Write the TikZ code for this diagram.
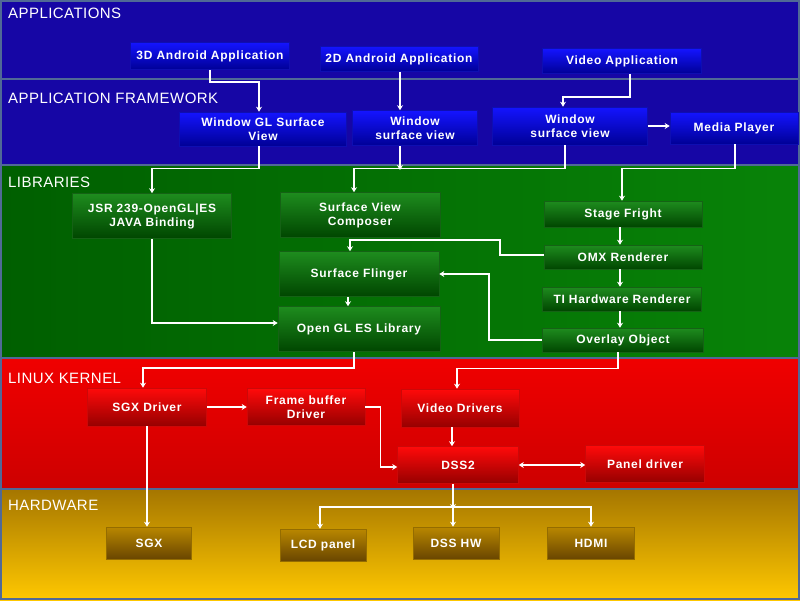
\documentclass[tikz,border=0pt]{standalone}
\usepackage{fontspec}
\setmainfont{Liberation Sans}
\usetikzlibrary{arrows.meta,calc}
\definecolor{bandblue}{RGB}{22,6,165}
\definecolor{bandline}{RGB}{80,105,150}
\definecolor{greenA}{RGB}{0,95,0}
\definecolor{greenB}{RGB}{10,140,10}
\definecolor{redA}{RGB}{240,0,0}
\definecolor{redB}{RGB}{205,0,0}
\definecolor{goldA}{RGB}{165,118,0}
\definecolor{goldB}{RGB}{255,200,0}
\definecolor{nbTop}{RGB}{20,20,255}
\definecolor{nbBot}{RGB}{0,0,150}
\definecolor{ngTop}{RGB}{30,140,30}
\definecolor{ngBot}{RGB}{0,70,0}
\definecolor{nrTop}{RGB}{255,10,10}
\definecolor{nrBot}{RGB}{150,0,0}
\definecolor{noTop}{RGB}{185,135,0}
\definecolor{noBot}{RGB}{105,70,0}
\newcommand{\boxfont}{\fontsize{12}{14}\selectfont\bfseries\addfontfeature{LetterSpace=6}}
\newcommand{\bandfont}{\fontsize{15}{17}\selectfont\addfontfeature{LetterSpace=3}}
\tikzset{
  x=1pt,y=-1pt,
  box/.style={text=white, font=\boxfont, align=center, inner sep=0pt, line width=0.6pt},
  bluebox/.style={box, top color=nbTop, bottom color=nbBot, draw=nbTop!70!black},
  greenbox/.style={box, top color=ngTop, bottom color=ngBot, draw=ngTop!70!black},
  redbox/.style={box, top color=nrTop, bottom color=nrBot, draw=nrTop!80!black},
  goldbox/.style={box, top color=noTop, bottom color=noBot, draw=noTop!80!black},
  bandlabel/.style={text=white, font=\bandfont, anchor=west, inner sep=0pt},
  conn/.style={draw=white, line width=1.6pt, -{Stealth[length=5pt,width=6pt]}},
  dconn/.style={draw=white, line width=1.6pt, {Stealth[length=5pt,width=6pt]}-{Stealth[length=5pt,width=6pt]}}
}
\begin{document}
\begin{tikzpicture}
\useasboundingbox (0,0) rectangle (800,600);
% bands
\fill[bandblue] (0,0) rectangle (800,79);
\fill[bandblue] (0,79) rectangle (800,165);
\shade[left color=greenA, right color=greenB!80!greenA] (0,165) rectangle (800,358);
\shade[top color=redA, bottom color=redB] (0,358) rectangle (800,489);
\shade[top color=goldA, bottom color=goldB] (0,489) rectangle (800,600);
\draw[bandline, line width=2pt] (0,79) -- (800,79);
\draw[bandline, line width=2pt] (0,165) -- (800,165);
\draw[bandline, line width=2pt] (0,358) -- (800,358);
\draw[bandline, line width=2pt] (0,489) -- (800,489);
\draw[bandline, line width=2pt] (1,1) rectangle (799,599);
% band labels
\node[bandlabel] (lapp) at (8,13) {APPLICATIONS};
\node[bandlabel] (lfw) at (8,98) {APPLICATION FRAMEWORK};
\node[bandlabel] (llib) at (8,182) {LIBRARIES};
\node[bandlabel] (lker) at (8,378) {LINUX KERNEL};
\node[bandlabel] (lhw) at (8,505) {HARDWARE};
% application nodes
\node[bluebox, minimum width=159, minimum height=27] (a3d) at (210,56) {3D Android Application};
\node[bluebox, minimum width=158, minimum height=25] (a2d) at (399,59) {2D Android Application};
\node[bluebox, minimum width=159, minimum height=25] (avid) at (622,61) {Video Application};
% framework
\node[bluebox, minimum width=167, minimum height=34] (wgl) at (263,129) {Window GL Surface\\View};
\node[bluebox, minimum width=125, minimum height=35] (wsv1) at (415,128) {Window\\surface view};
\node[bluebox, minimum width=155, minimum height=38] (wsv2) at (570,126) {Window\\surface view};
\node[bluebox, minimum width=128, minimum height=32] (mp) at (734,128) {Media Player};
% libraries
\node[greenbox, minimum width=159, minimum height=45] (jsr) at (152,216) {JSR 239-OpenGL|ES\\JAVA Binding};
\node[greenbox, minimum width=160, minimum height=45] (svc) at (360,215) {Surface View\\Composer};
\node[greenbox, minimum width=160, minimum height=45] (sf) at (359,274) {Surface Flinger};
\node[greenbox, minimum width=162, minimum height=45] (ogl) at (359,329) {Open GL ES Library};
\node[greenbox, minimum width=158, minimum height=26] (stf) at (623,214) {Stage Fright};
\node[greenbox, minimum width=158, minimum height=24] (omx) at (623,257) {OMX Renderer};
\node[greenbox, minimum width=159, minimum height=24] (tih) at (622,299) {TI Hardware Renderer};
\node[greenbox, minimum width=161, minimum height=24] (ovl) at (623,340) {Overlay Object};
% kernel
\node[redbox, minimum width=119, minimum height=38] (sgxd) at (147,407) {SGX Driver};
\node[redbox, minimum width=118, minimum height=37] (fbd) at (306,407) {Frame buffer\\Driver};
\node[redbox, minimum width=118, minimum height=38] (vd) at (460,408) {Video Drivers};
\node[redbox, minimum width=121, minimum height=37] (dss) at (458,465) {DSS2};
\node[redbox, minimum width=119, minimum height=37] (pd) at (645,464) {Panel driver};
% hardware
\node[goldbox, minimum width=85, minimum height=32] (sgx) at (149,543) {SGX};
\node[goldbox, minimum width=86, minimum height=32] (lcd) at (323,545) {LCD panel};
\node[goldbox, minimum width=86, minimum height=32] (dsshw) at (456,543) {DSS HW};
\node[goldbox, minimum width=87, minimum height=32] (hdmi) at (591,543) {HDMI};
% junction coordinates
\coordinate (jlib) at (400,168);
\coordinate (jhw) at (453,507);
% connectors
\draw[conn] (a3d.south) -- ++(0,12) -| ([xshift=-4pt]wgl.north);
\draw[conn] (a2d.south -| 400,0) -- (wsv1.north -| 400,0);
\draw[conn] (avid.south -| 630,0) -- ++(0,23) -| ([xshift=-7pt]wsv2.north);
\draw[conn] (wsv2.east) -- (wsv2.east -| mp.west);
\draw[conn] (wgl.south -| 259,0) -- ++(0,22) -| (jsr.north);
\draw[conn] (wsv1.south -| 400,0) -- ([yshift=-2pt]jlib);
\draw[conn] (wsv2.south -| 565,0) -- ++(0,23) -| ([xshift=-6pt]svc.north);
\draw[conn] (mp.south -| 735,0) -- ++(0,24) -| ([xshift=-1pt]stf.north);
\draw[conn] (stf.south -| 620,0) -- (omx.north -| 620,0);
\draw[conn] (omx.south -| 620,0) -- (tih.north -| 620,0);
\draw[conn] (tih.south -| 620,0) -- (ovl.north -| 620,0);
\draw[conn] ([yshift=2pt]omx.west) -- ++(-44,0) -- ++(0,-15) -| ([xshift=-9pt]sf.north);
\draw[conn] (ovl.west) -- ++(-53,0) |- (sf.east);
\draw[conn] ([xshift=-11pt]sf.south) -- ([xshift=-11pt]ogl.north);
\draw[conn] (jsr.south) |- ([yshift=6pt]ogl.west);
\draw[conn] ([xshift=-5pt]ogl.south) -- ++(0,16) -| ([xshift=-4pt]sgxd.north);
\draw[conn] ([xshift=-5pt]ovl.south) -- ++(0,16) -| ([xshift=-3pt]vd.north);
\draw[conn] (sgxd.east) -- (fbd.west);
\draw[conn] (fbd.east) -- ++(15,0) |- ([yshift=-2pt]dss.west);
\draw[conn] ([xshift=-8pt]vd.south) -- ([xshift=-6pt]dss.north);
\draw[dconn] (dss.east) -- (dss.east -| pd.west);
\draw[conn] (sgxd.south) -- (sgxd.south |- sgx.north);
\draw[conn] (dss.south -| jhw) -- ([yshift=-2pt]jhw);
\draw[conn] (jhw) -- (jhw |- dsshw.north);
\draw[conn] (jhw) -| ([xshift=-3pt]lcd.north);
\draw[conn] (jhw) -| (hdmi.north);
\end{tikzpicture}
\end{document}
